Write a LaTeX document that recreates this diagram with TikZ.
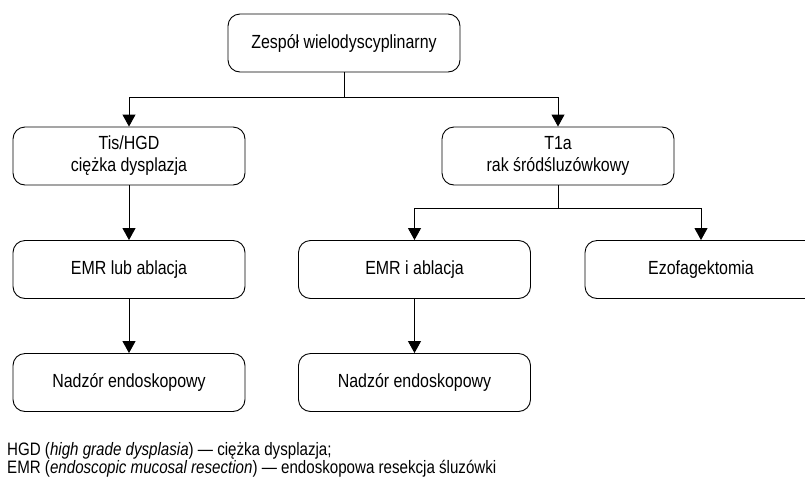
\documentclass[tikz,border=0pt]{standalone}
\usepackage{fontspec}
\setmainfont[FakeStretch=0.84]{Liberation Sans}
\usetikzlibrary{arrows.meta}
\tikzset{
  box/.style={draw, line width=0.9pt, rounded corners=12pt, minimum width=232pt, minimum height=58pt, inner sep=0pt, align=center, font=\fontsize{19}{22}\selectfont},
  conn/.style={line width=0.9pt},
  arr/.style={line width=0.9pt, -{Triangle[length=12pt,width=13pt]}},
  note/.style={anchor=base west, inner sep=0pt, font=\fontsize{18}{18}\selectfont}
}
\begin{document}
\begin{tikzpicture}[x=1pt,y=-1pt]
\useasboundingbox (0,0) rectangle (805,477);
\clip (0,0) rectangle (805,477);
\node[box] (top) at (344,43) {Zespół wielodyscyplinarny};
\node[box] (tis) at (129,156) {Tis/HGD\\ciężka dysplazja};
\node[box] (t1a) at (558,156) {T1a\\rak śródśluzówkowy};
\node[box] (emr1) at (129,269.5) {EMR lub ablacja};
\node[box] (emr2) at (414.5,269.5) {EMR i ablacja};
\node[box] (ezo) at (701,269.5) {Ezofagektomia};
\node[box] (n1) at (129,382.5) {Nadzór endoskopowy};
\node[box] (n2) at (414.5,382.5) {Nadzór endoskopowy};
\draw[conn] (top.south) -- ++(0,25) coordinate (j1);
\draw[arr] (j1) -| (tis.north);
\draw[arr] (j1) -| (t1a.north);
\draw[conn] (t1a.south) -- ++(0,23) coordinate (j2);
\draw[arr] (j2) -| (emr2.north);
\draw[arr] (j2) -| (ezo.north);
\draw[arr] (tis) -- (emr1);
\draw[arr] (emr1) -- (n1);
\draw[arr] (emr2) -- (n2);
\node[note] (fn1) at (7,455) {HGD (\textit{high grade dysplasia}) — ciężka dysplazja;};
\node[note] (fn2) at (7,473) {EMR (\textit{endoscopic mucosal resection}) — endoskopowa resekcja śluzówki};
\end{tikzpicture}
\end{document}
